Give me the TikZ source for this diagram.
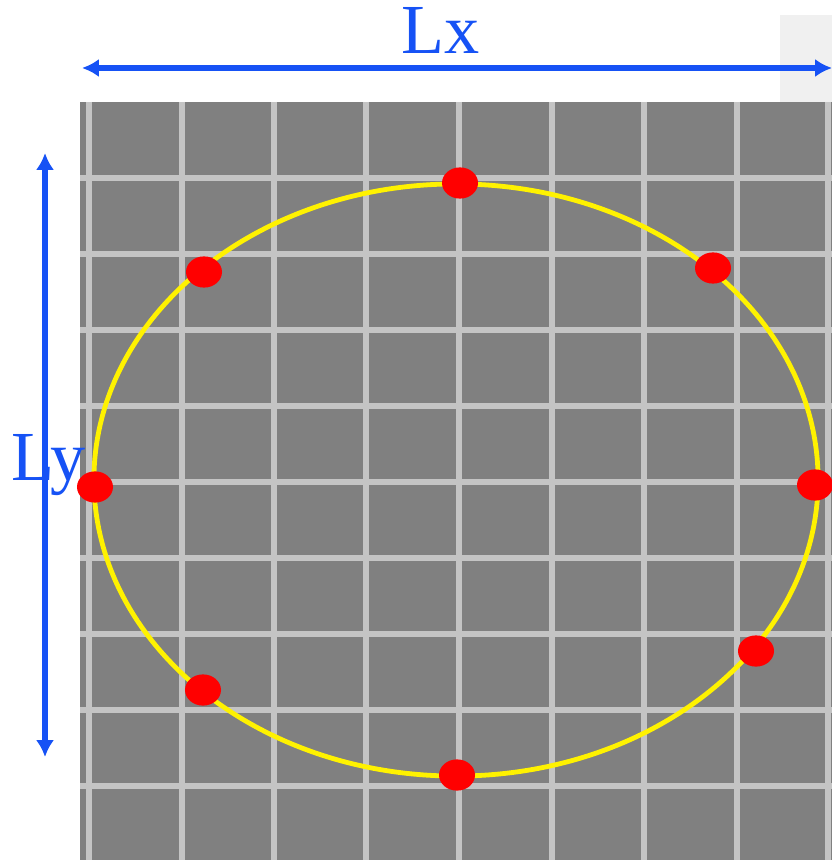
\documentclass[tikz,border=0pt]{standalone}
\usepackage{fontspec}
\setmainfont{Liberation Serif}
\usetikzlibrary{arrows.meta, shapes.geometric}
\definecolor{dimblue}{RGB}{22,82,245}
\definecolor{tilegray}{RGB}{128,128,128}
\definecolor{gridgray}{RGB}{196,196,196}
\definecolor{cornergray}{RGB}{240,240,240}

\begin{document}
\begin{tikzpicture}[x=0.025cm, y=-0.025cm,
    gridline/.style={gridgray, line width=0.15cm},
    dimarrow/.style={dimblue, line width=0.13cm, {Latex[length=0.42cm,width=0.45cm]}-{Latex[length=0.42cm,width=0.45cm]}},
    marker/.style={ellipse, fill=red, inner sep=0pt, minimum width=0.9cm, minimum height=0.78cm},
    dimlabel/.style={text=dimblue, font=\fontsize{50}{60}\selectfont, inner sep=0pt}]
\useasboundingbox (0,0) rectangle (832,860);
% Light patch in the top right corner
\fill[cornergray] (780,15) rectangle (832,102);
% Grey tile with grid lines
\fill[tilegray] (80,102) rectangle (832,860);
\foreach \gx in {89,182,274,366,459,552,644,737,828}
    \draw[gridline] (\gx,102) -- (\gx,860);
\foreach \gy in {178,254,330,406,482,558,634,710,786}
    \draw[gridline] (80,\gy) -- (832,\gy);
% Yellow ellipse
\draw[yellow, line width=0.12cm] (456,480) ellipse [x radius=9.05cm, y radius=7.4cm];
% Red sample points on the ellipse
\foreach \px/\py/\pname in {460/183/ptop, 204/272/pul, 713/268/pur, 95/487/pleft,
                            815/485/pright, 203/690/pll, 756/651/plr, 457/775/pbot}
    \node[marker] (\pname) at (\px,\py) {};
% Dimension arrows
\coordinate (lxstart) at (82,68);
\coordinate (lxend) at (832,68);
\draw[dimarrow] (lxstart) -- (lxend);
\coordinate (lytop) at (45,153);
\coordinate (lybot) at (45,757);
\draw[dimarrow] (lytop) -- (lybot);
% Labels
\node[dimlabel, anchor=base] (lx) at (441,54) {Lx};
\node[dimlabel, anchor=base west] (ly) at (11,480) {Ly};
\end{tikzpicture}
\end{document}
